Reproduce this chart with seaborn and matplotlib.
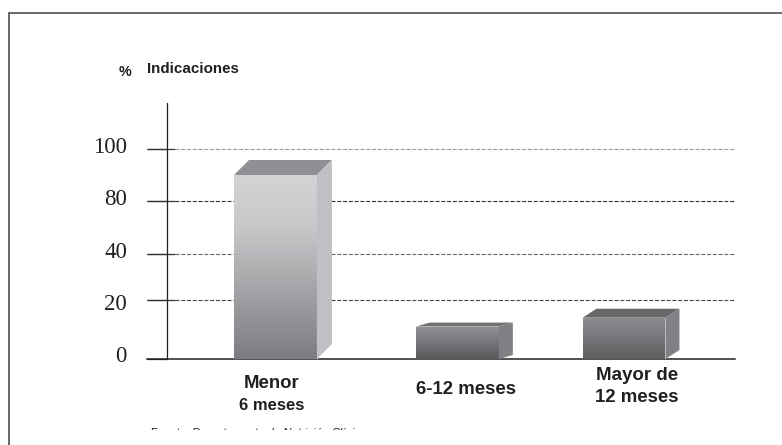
import matplotlib
matplotlib.use('Agg')
import matplotlib.pyplot as plt
import numpy as np
import pandas as pd
import seaborn as sns
from matplotlib.colors import LinearSegmentedColormap
from matplotlib.lines import Line2D
from matplotlib.patches import Polygon
from matplotlib.transforms import Bbox, IdentityTransform, ScaledTranslation

# Data
categories = ['Menor 6 meses', '6-12 meses', 'Mayor de 12 meses']
values = [90, 11, 14]
y_ticks = [0, 20, 40, 80, 100]
y_tick_labels = ['0', '20', '40', '80', '100']

# The printed axis is not evenly spaced, so it gets its own scale
scale_values = [0, 20, 40, 80, 100, 120]
scale_pixels = [0, 59, 105, 158, 210, 256]


def forward(v):
    return np.interp(v, scale_values, scale_pixels)


def inverse(p):
    return np.interp(p, scale_pixels, scale_values)


W, H = 782, 445


def fx(px):
    return px / W


def fy(px):
    return 1 - px / H


sns.set_style('white')
plt.rcParams['font.family'] = ['Liberation Sans', 'DejaVu Sans']

fig = plt.figure(figsize=(W / 100, H / 100), dpi=100)
ax = fig.add_axes([fx(147), fy(359), fx(735) - fx(147), fy(103) - fy(359)])

df = pd.DataFrame({'categoria': categories, 'valor': values})
sns.barplot(data=df, x='categoria', y='valor', color='#808184', width=0.476,
            saturation=1, ax=ax, zorder=3)

ax.set_yscale('function', functions=(forward, inverse))
ax.set_ylim(0, 120)
ax.set_xlim(-0.737, 2.637)
ax.set_xlabel('')
ax.set_ylabel('')
ax.set_xticks([])
ax.set_yticks(y_ticks)
ax.set_yticklabels(y_tick_labels)
ax.minorticks_off()
ax.tick_params(axis='y', left=True, direction='out', length=14.4, width=0.9,
               color='#333333', pad=14.4, labelsize=16.5,
               labelfontfamily='Liberation Serif', labelcolor='#231f20')

# Spines: vertical axis sits inside, the baseline runs the full width
for side in ['top', 'right']:
    ax.spines[side].set_visible(False)
ax.spines['left'].set_position(('axes', 20 / 588))
ax.spines['left'].set_color('#231f20')
ax.spines['left'].set_linewidth(0.9)
ax.spines['bottom'].set_color('#231f20')
ax.spines['bottom'].set_linewidth(1.1)

# Labels sit a little off their ticks in the print
label_nudge = [5, -2.5, 4, 4, 4]
for tick, nudge in zip(ax.yaxis.get_major_ticks(), label_nudge):
    shift = ScaledTranslation(0, nudge / 100, fig.dpi_scale_trans)
    tick.label1.set_transform(tick.label1.get_transform() + shift)

# Dashed grid, each line printed a bit differently
x_per_px = (2.637 + 0.737) / 588
stub_end = -0.737 + 28 * x_per_px
grid_colors = ['#444444', '#666666', '#333333', '#9a9a9a']
for v, c in zip(y_ticks[1:], grid_colors):
    ax.hlines(v, -0.737, stub_end, color='#333333', lw=0.9, zorder=1)
    ax.hlines(v, stub_end, 2.637, color=c, lw=0.8, linestyles=(0, (3.6, 1.6)), zorder=1)

# Faces of the fake 3D bars, per bar
bar_nudge = [0, 0.044, 0]
depth_x = [15, 14, 14]
depth_y = [15, 4, 9]
top_gradient = ['#d2d3d5', '#8f9093', '#8c8d90']
mid_gradient = ['#c6c7c9', '#818285', '#7f8083']
bottom_gradient = ['#7c7d80', '#58595b', '#5c5d5f']
top_faces = ['#8f9093', '#717274', '#67686a']
side_faces = ['#bfc0c3', '#808184', '#808184']

for i, patch in enumerate(ax.patches):
    patch.set_x(patch.get_x() + bar_nudge[i])
    x0, x1 = patch.get_x(), patch.get_x() + patch.get_width()
    top = patch.get_height()

    cmap = LinearSegmentedColormap.from_list(
        'bar', [(0, bottom_gradient[i]), (0.72, mid_gradient[i]), (1, top_gradient[i])])
    edges = inverse(np.linspace(0, forward(top), 81))
    shades = np.linspace(0, 1, 80).reshape(-1, 1)
    ax.pcolormesh([x0, x1], edges, shades, cmap=cmap, zorder=4, rasterized=True,
                  antialiased=False)

    (px0, py0), (px1, py1) = ax.transData.transform([(x0, 0), (x1, top)])
    dx, dy = depth_x[i], depth_y[i]
    top_xy = [(px0, py1), (px1, py1), (px1 + dx, py1 + dy), (px0 + dx, py1 + dy)]
    side_xy = [(px1, py0), (px1 + dx, py0 + dy), (px1 + dx, py1 + dy), (px1, py1)]
    ax.add_patch(Polygon(top_xy, closed=True, facecolor=top_faces[i], edgecolor='none',
                         transform=IdentityTransform(), clip_on=False, zorder=4))
    ax.add_patch(Polygon(side_xy, closed=True, facecolor=side_faces[i], edgecolor='none',
                         transform=IdentityTransform(), clip_on=False, zorder=4))

# Category labels, two font sizes in the first one
ink = '#231f20'
fig.text(fx(272), fy(384), 'Menor', ha='center', va='center', fontsize=13.4, weight='bold', color=ink)
fig.text(fx(272), fy(405), '6 meses', ha='center', va='center', fontsize=12, weight='bold', color=ink)
fig.text(fx(466), fy(389), '6-12 meses', ha='center', va='center', fontsize=13.4, weight='bold', color=ink)
fig.text(fx(637), fy(375), 'Mayor de', ha='center', va='center', fontsize=13.5, weight='bold', color=ink)
fig.text(fx(637), fy(397), '12 meses', ha='center', va='center', fontsize=13.4, weight='bold', color=ink)

# Axis heading
fig.text(fx(125), fy(72), '%', ha='center', va='center', fontsize=10.3, weight='bold', color=ink)
fig.text(fx(147), fy(69), 'Indicaciones', ha='left', va='center', fontsize=10.9, weight='bold', color=ink)

# Source line is cut off by the crop of the original, only the tops show
source = fig.text(fx(151), fy(428.5), 'Fuente: Departamento de Nutrición Clínica',
                  ha='left', va='top', fontsize=8.2, color=ink)
source.set_clip_box(Bbox([[0, H - 430], [W, H]]))
source.set_clip_on(True)

# Frame, open on the right and at the bottom
fig.add_artist(Line2D([fx(9), 1], [fy(12.5), fy(12.5)], color='#404040', lw=1.1))
fig.add_artist(Line2D([fx(9), fx(9)], [fy(12.5), 0], color='#404040', lw=1.1))

fig.savefig('out.png', dpi=100)
